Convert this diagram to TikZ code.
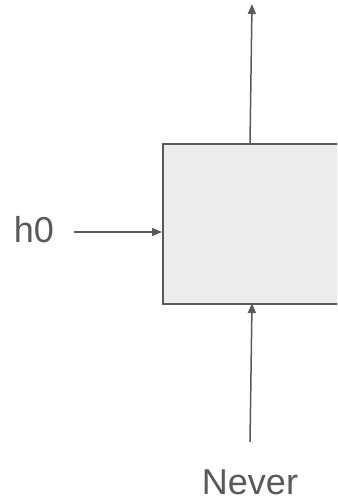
\documentclass[tikz,border=0pt]{standalone}
\usepackage{fontspec}
\setmainfont{Liberation Sans}
\usetikzlibrary{arrows.meta}
\definecolor{ln}{HTML}{595959}
\definecolor{bx}{HTML}{ECECEC}
\begin{document}
\begin{tikzpicture}[x=1pt,y=-1pt,
  conn/.style={draw=ln,line width=1.5pt,-{Triangle[length=10pt,width=8pt]}},
  lbl/.style={text=ln,font=\fontsize{36}{40}\selectfont,inner sep=0pt}]
\useasboundingbox (0,0) rectangle (337,502);
\clip (0,0) rectangle (337,502);
\node[draw=ln,fill=bx,line width=2pt,minimum width=190pt,minimum height=160pt,inner sep=0pt,anchor=north west] (box) at (162,143) {};
\node[lbl,anchor=center] (h0) at (34,230) {h0};
\node[lbl,anchor=center] (never) at (250,482) {Never};
\coordinate (topend) at (252,4);
\coordinate (boxtop) at (250,143);
\coordinate (boxbot) at (252,303);
\coordinate (botstart) at (250,442);
\coordinate (hstart) at (74,232);
\draw[conn] (boxtop) -- (topend);
\draw[conn] (botstart) -- (boxbot);
\draw[conn] (hstart) -- (box.west |- hstart);
\end{tikzpicture}
\end{document}
